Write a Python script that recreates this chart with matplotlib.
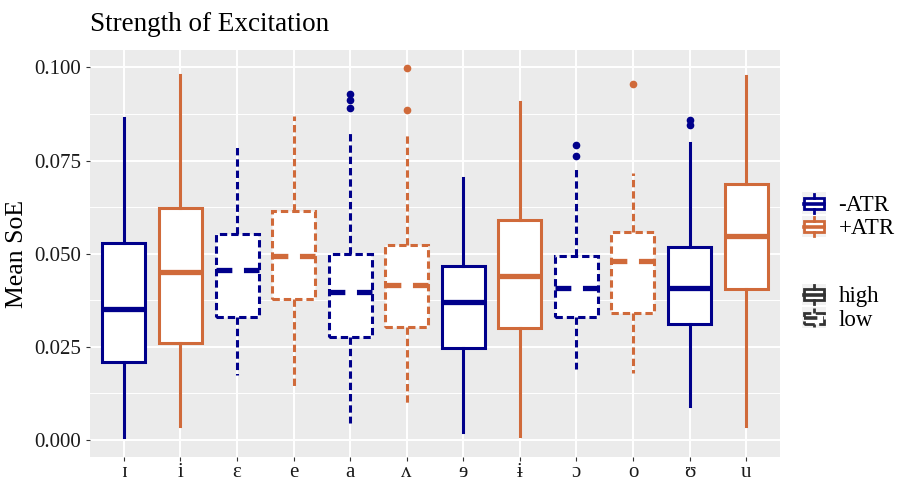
import matplotlib
matplotlib.use("Agg")
import matplotlib.pyplot as plt
from matplotlib.lines import Line2D
from matplotlib.patches import Rectangle
from matplotlib.legend_handler import HandlerBase

plt.rcParams['font.family'] = ['Liberation Serif', 'DejaVu Serif']

vowels = ["ɪ", "i", "ɛ", "e", "a", "ʌ", "ɘ", "ɨ", "ɔ", "o", "ʊ", "u"]
atr = ["-ATR", "+ATR", "-ATR", "+ATR", "-ATR", "+ATR", "-ATR", "+ATR", "-ATR", "+ATR", "-ATR", "+ATR"]
height = ["high", "high", "low", "low", "low", "low", "high", "high", "low", "low", "high", "high"]

whislo = [0.0008, 0.0038, 0.0173, 0.0143, 0.0044, 0.0100, 0.0021, 0.0009, 0.0189, 0.0179, 0.0090, 0.0036]
q1 = [0.0209, 0.0261, 0.0331, 0.0377, 0.0277, 0.0304, 0.0246, 0.0299, 0.0330, 0.0340, 0.0310, 0.0406]
med = [0.0352, 0.0450, 0.0455, 0.0494, 0.0396, 0.0417, 0.0369, 0.0439, 0.0408, 0.0479, 0.0407, 0.0547]
q3 = [0.0529, 0.0622, 0.0554, 0.0614, 0.0500, 0.0524, 0.0466, 0.0589, 0.0494, 0.0557, 0.0518, 0.0688]
whishi = [0.0864, 0.0980, 0.0786, 0.0871, 0.0828, 0.0819, 0.0703, 0.0906, 0.0730, 0.0717, 0.0797, 0.0978]
fliers = [[], [], [], [], [0.0929, 0.0913, 0.0891], [0.0998, 0.0886], [], [],
          [0.0791, 0.0761], [0.0955], [0.0859, 0.0846], []]

colors = {"-ATR": "#00008B", "+ATR": "#D06A3A"}
styles = {"high": "-", "low": (0, (2.4, 1.3))}

fig = plt.figure(figsize=(8.98, 4.83), dpi=100)
ax = fig.add_axes([0.1002, 0.0538, 0.7684, 0.8427])
ax.set_facecolor("#EBEBEB")

for i in range(len(vowels)):
    st = dict(whislo=whislo[i], q1=q1[i], med=med[i], q3=q3[i], whishi=whishi[i], fliers=fliers[i])
    c = colors[atr[i]]
    ls = styles[height[i]]
    ax.bxp([st], positions=[i + 1], widths=0.76, showcaps=False, patch_artist=True,
           boxprops=dict(facecolor="white", edgecolor=c, linewidth=2.2, linestyle=ls),
           whiskerprops=dict(color=c, linewidth=2.2, linestyle=ls),
           medianprops=dict(color=c, linewidth=3.8, linestyle=ls if ls == "-" else (0, (3, 2.2)),
                            solid_capstyle="butt"),
           flierprops=dict(marker="o", markerfacecolor=c, markeredgecolor=c, markersize=4.5),
           zorder=3)

ax.set_xlim(0.4, 12.6)
ax.set_ylim(-0.00463, 0.1047)
ax.set_xticks(range(1, len(vowels) + 1))
ax.set_xticklabels(vowels)
ax.set_yticks([0, 0.025, 0.05, 0.075, 0.1])
ax.set_yticklabels(["0.000", "0.025", "0.050", "0.075", "0.100"])
ax.set_yticks([0.0125, 0.0375, 0.0625, 0.0875], minor=True)
ax.grid(True, which="major", color="white", linewidth=1.4, zorder=0)
ax.grid(True, which="minor", axis="y", color="white", linewidth=0.7, zorder=0)
ax.set_axisbelow(True)
for s in ax.spines.values():
    s.set_visible(False)
ax.tick_params(axis="both", which="major", length=3, color="#333333", labelsize=15, labelcolor="#1a1a1a")
ax.tick_params(axis="y", which="minor", length=0)
ax.tick_params(axis="x", labelsize=15, pad=1)
ax.set_ylabel("Mean SoE", fontsize=18.5)
ax.set_title("Strength of Excitation", fontsize=19.5, loc="left", x=0.0, pad=13.5)


# small boxplot glyph for the legend keys
class BoxHandler(HandlerBase):
    def create_artists(self, legend, orig_handle, xd, yd, w, h, fontsize, trans):
        c = orig_handle.get_color()
        ls = orig_handle.get_linestyle()
        x0, y0 = -xd, -yd
        bg = Rectangle((x0, y0), w, h, facecolor="#F2F2F2", edgecolor="none", transform=trans)
        cx = x0 + w / 2
        bw = w * 0.8
        box = Rectangle((cx - bw / 2, y0 + h * 0.22), bw, h * 0.52, facecolor="white",
                        edgecolor=c, linewidth=2.0, linestyle=ls, transform=trans)
        wl = Line2D([cx, cx], [y0 + h * 0.05, y0 + h * 0.22], color=c, linewidth=2.0, linestyle=ls, transform=trans)
        wh = Line2D([cx, cx], [y0 + h * 0.74, y0 + h * 0.95], color=c, linewidth=2.0, linestyle=ls, transform=trans)
        md = Line2D([cx - bw / 2, cx + bw / 2], [y0 + h * 0.48, y0 + h * 0.48], color=c, linewidth=2.6,
                    linestyle=ls, transform=trans)
        return [bg, box, wl, wh, md]


h_col = [Line2D([], [], color=colors["-ATR"], linestyle="-"),
         Line2D([], [], color=colors["+ATR"], linestyle="-")]
h_lt = [Line2D([], [], color="#333333", linestyle="-"),
        Line2D([], [], color="#333333", linestyle=(0, (1.6, 0.9)))]

leg1 = fig.legend(h_col, ["-ATR", "+ATR"], handler_map={Line2D: BoxHandler()},
                  loc="center left", bbox_to_anchor=(0.893, 0.553), frameon=False, fontsize=16.5,
                  handlelength=1.05, handleheight=1.05, handletextpad=0.55, labelspacing=0.0,
                  borderpad=0, borderaxespad=0)
leg2 = fig.legend(h_lt, ["high", "low"], handler_map={Line2D: BoxHandler()},
                  loc="center left", bbox_to_anchor=(0.893, 0.364), frameon=False, fontsize=16.5,
                  handlelength=1.05, handleheight=1.05, handletextpad=0.55, labelspacing=0.0,
                  borderpad=0, borderaxespad=0)

fig.savefig("out.png", dpi=100)
